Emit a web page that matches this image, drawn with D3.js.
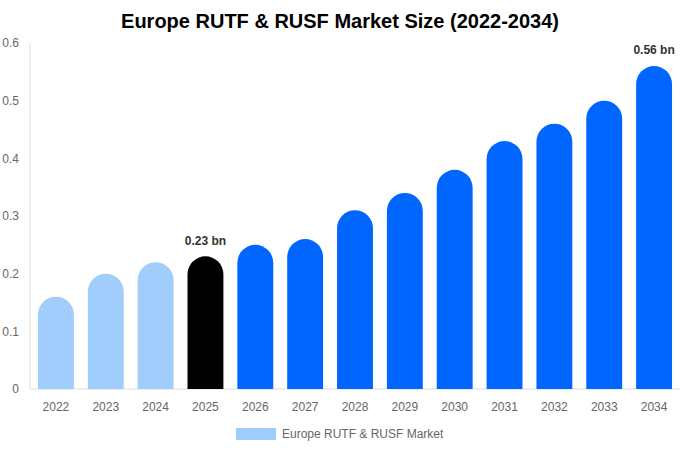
<!DOCTYPE html>
<html>
<head>
<meta charset="utf-8">
<script src="https://cdn.jsdelivr.net/npm/d3@7"></script>
<style>
  body { margin: 0; background: #fff; }
  svg { display: block; font-family: "Liberation Sans", Arial, Helvetica, sans-serif; }
</style>
</head>
<body>
<div id="chart"></div>
<script>
// Chart data
const years = ["2022", "2023", "2024", "2025", "2026", "2027", "2028", "2029", "2030", "2031", "2032", "2033", "2034"];
const marketSize = [0.16, 0.20, 0.22, 0.23, 0.25, 0.26, 0.31, 0.34, 0.38, 0.43, 0.46, 0.50, 0.56];
const yTicks = [0, 0.1, 0.2, 0.3, 0.4, 0.5, 0.6];
const labelled = { "2025": "0.23 bn", "2034": "0.56 bn" };

const width = 680;
const height = 450;
const margin = { top: 43, right: 0, bottom: 61, left: 30 };

const colors = {
  history: "#a0cdfc",
  current: "#000000",
  forecast: "#0066ff",
  axis: "#dddddd",
  tick: "#666666",
  label: "#333333",
};

function barColor(year) {
  if (+year < 2025) return colors.history;
  if (+year === 2025) return colors.current;
  return colors.forecast;
}

const svg = d3.select("#chart")
  .append("svg")
  .attr("width", width)
  .attr("height", height);

const x = d3.scaleBand()
  .domain(years)
  .range([margin.left, width - margin.right])
  .paddingInner(0.28)
  .paddingOuter(0.16);

const y = d3.scaleLinear()
  .domain([0, 0.6])
  .range([height - margin.bottom, margin.top]);

// Title
svg.append("text")
  .attr("x", width / 2)
  .attr("y", 28)
  .attr("text-anchor", "middle")
  .attr("font-size", 20)
  .attr("font-weight", "bold")
  .attr("fill", "#000")
  .text("Europe RUTF & RUSF Market Size (2022-2034)");

// Axes lines
svg.append("line")
  .attr("x1", margin.left).attr("x2", margin.left)
  .attr("y1", y(0.6)).attr("y2", y(0))
  .attr("stroke", colors.axis);

svg.append("line")
  .attr("x1", margin.left).attr("x2", width - margin.right)
  .attr("y1", y(0)).attr("y2", y(0))
  .attr("stroke", colors.axis);

// Y tick labels
svg.append("g")
  .selectAll("text")
  .data(yTicks)
  .join("text")
  .attr("x", 19)
  .attr("y", d => y(d))
  .attr("dy", "0.35em")
  .attr("text-anchor", "end")
  .attr("font-size", 12)
  .attr("fill", colors.tick)
  .text(d => d);

// X tick labels
svg.append("g")
  .selectAll("text")
  .data(years)
  .join("text")
  .attr("x", d => x(d) + x.bandwidth() / 2)
  .attr("y", y(0) + 18)
  .attr("dy", "0.35em")
  .attr("text-anchor", "middle")
  .attr("font-size", 12)
  .attr("fill", colors.tick)
  .text(d => d);

// Bars with rounded tops
function roundedTop(x0, y0, w, h) {
  const r = Math.min(w / 2, h);
  return `M${x0},${y0 + h}` +
    `V${y0 + r}` +
    `A${r},${r} 0 0 1 ${x0 + w},${y0 + r}` +
    `V${y0 + h}Z`;
}

const data = years.map((yr, i) => ({ year: yr, value: marketSize[i] }));

svg.append("g")
  .selectAll("path")
  .data(data)
  .join("path")
  .attr("d", d => roundedTop(x(d.year), y(d.value), x.bandwidth(), y(0) - y(d.value)))
  .attr("fill", d => barColor(d.year));

// Value labels
svg.append("g")
  .selectAll("text")
  .data(data.filter(d => labelled[d.year]))
  .join("text")
  .attr("x", d => x(d.year) + x.bandwidth() / 2)
  .attr("y", d => y(d.value) - 16)
  .attr("dy", "0.35em")
  .attr("text-anchor", "middle")
  .attr("font-size", 12)
  .attr("font-weight", "bold")
  .attr("fill", colors.label)
  .text(d => labelled[d.year]);

// Legend
const legend = svg.append("g");
legend.append("rect")
  .attr("x", 236).attr("y", 428)
  .attr("width", 40).attr("height", 12)
  .attr("fill", colors.history);
legend.append("text")
  .attr("x", 282).attr("y", 434)
  .attr("dy", "0.35em")
  .attr("font-size", 12)
  .attr("fill", colors.tick)
  .text("Europe RUTF & RUSF Market");
</script>
</body>
</html>
